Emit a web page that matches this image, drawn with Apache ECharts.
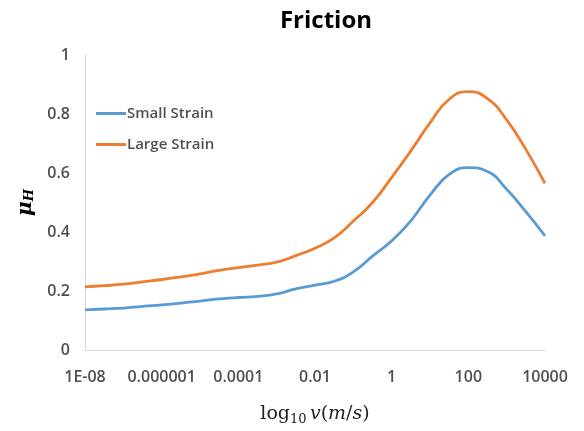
<!DOCTYPE html>
<html>
<head>
<meta charset="utf-8">
<script src="https://cdn.jsdelivr.net/npm/echarts@6/dist/echarts.min.js"></script>
<style>
  html, body { margin: 0; padding: 0; background: #fff; }
  #friction { width: 584px; height: 431px; }
</style>
</head>
<body>
<div id="friction"></div>
<script>
// log10 of velocity (m/s)
const logV = [-8, -7.5, -7, -6.5, -6, -5.5, -5, -4.5, -4, -3.5, -3, -2.5, -2,
  -1.5, -1, -0.5, 0, 0.5, 1, 1.5, 2, 2.5, 3, 3.5, 4];
const smallStrain = [0.136, 0.139, 0.142, 0.148, 0.153, 0.159, 0.166, 0.173, 0.178, 0.182, 0.190, 0.207, 0.220,
  0.233, 0.265, 0.318, 0.370, 0.438, 0.525, 0.595, 0.618, 0.605, 0.545, 0.469, 0.387];
const largeStrain = [0.214, 0.218, 0.223, 0.231, 0.239, 0.248, 0.258, 0.270, 0.279, 0.288, 0.298, 0.320, 0.345,
  0.380, 0.437, 0.500, 0.585, 0.675, 0.770, 0.850, 0.876, 0.852, 0.780, 0.680, 0.565];
const xTickLabels = ['1E-08', '0.000001', '0.0001', '0.01', '1', '100', '10000'];

const chart = echarts.init(document.getElementById('friction'));
const grey = '#505050';

const option = {
  animation: false,
  color: ['#5B9BD5', '#ED7D31'],
  title: {
    text: 'Friction',
    left: 321,
    top: 4,
    textAlign: 'center',
    textStyle: { fontFamily: 'Open Sans', fontWeight: 'bold', fontSize: 24, color: '#000' }
  },
  legend: {
    orient: 'vertical',
    left: 91,
    top: 101,
    itemWidth: 30,
    itemHeight: 3,
    itemGap: 16,
    icon: 'rect',
    textStyle: { fontFamily: 'Open Sans', fontSize: 15, fontWeight: 600, color: grey, padding: [0, 0, 0, -4] },
    data: ['Small Strain', 'Large Strain']
  },
  grid: { left: 85, right: 39, top: 55, bottom: 77 },
  xAxis: {
    type: 'value',
    min: -8,
    max: 4,
    interval: 2,
    axisLine: { show: true, onZero: false, lineStyle: { color: '#d9d9d9', width: 1 } },
    axisTick: { show: false },
    splitLine: { show: false },
    axisLabel: {
      margin: 19,
      fontFamily: 'Open Sans',
      fontSize: 16,
      fontWeight: 600,
      color: grey,
      formatter: v => xTickLabels[Math.round((v + 8) / 2)]
    },
    name: '{n|log}{s|10} {i|v}{n|(}{i|m}{n|/}{i|s}{n|)}',
    nameLocation: 'middle',
    nameGap: 53,
    nameTextStyle: {
      rich: {
        n: { fontFamily: 'DejaVu Serif', fontSize: 19, color: '#222' },
        i: { fontFamily: 'DejaVu Serif', fontStyle: 'italic', fontSize: 19, color: '#222' },
        s: { fontFamily: 'DejaVu Serif', fontSize: 13, color: '#222', verticalAlign: 'bottom', padding: [10, 0, 0, 0] }
      }
    }
  },
  yAxis: {
    type: 'value',
    min: 0,
    max: 1,
    interval: 0.2,
    axisLine: { show: true, onZero: false, lineStyle: { color: '#d9d9d9', width: 1 } },
    axisTick: { show: false },
    splitLine: { show: false },
    axisLabel: { margin: 15, fontFamily: 'Open Sans', fontSize: 16, fontWeight: 600, color: grey },
    name: '{m|μ}{h|H}',
    nameLocation: 'middle',
    nameGap: 47,
    nameTextStyle: {
      rich: {
        m: { fontFamily: 'DejaVu Serif', fontStyle: 'italic', fontWeight: 'bold', fontSize: 20, color: '#000' },
        h: { fontFamily: 'DejaVu Serif', fontStyle: 'italic', fontWeight: 'bold', fontSize: 13, color: '#000', padding: [8, 0, 0, 0] }
      }
    }
  },
  series: [
    {
      name: 'Small Strain',
      type: 'line',
      smooth: true,
      showSymbol: false,
      lineStyle: { width: 2.8 },
      data: logV.map((x, i) => [x, smallStrain[i]])
    },
    {
      name: 'Large Strain',
      type: 'line',
      smooth: true,
      showSymbol: false,
      lineStyle: { width: 2.8 },
      data: logV.map((x, i) => [x, largeStrain[i]])
    }
  ]
};

chart.setOption(option);
</script>
</body>
</html>
